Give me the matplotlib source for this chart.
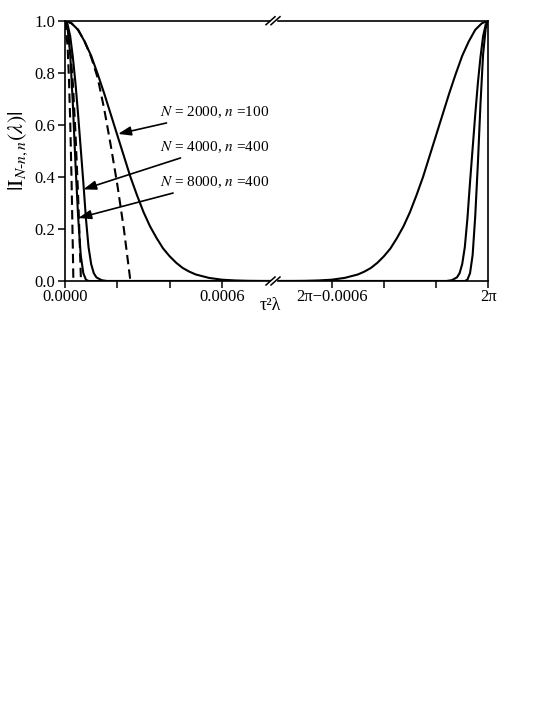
import matplotlib.pyplot as plt

plt.rcParams['font.family'] = ['Liberation Serif', 'DejaVu Serif']
plt.rcParams['mathtext.fontset'] = 'stix'

# x offsets are in units of 1e-4 (distance from 0 on the left, from 2*pi on the right)
# N = 2000, n = 100
x_2000 = [0, 0.25, 0.5, 0.75, 1.0, 1.25, 1.5, 1.75, 2.0, 2.25, 2.5, 2.75, 3.0, 3.25, 3.5, 3.75,
          4.0, 4.25, 4.5, 4.75, 5.0, 5.5, 6.0, 6.5, 7.0, 7.5, 8.3]
y_2000 = [1.0, 0.99, 0.965, 0.92, 0.865, 0.795, 0.72, 0.64, 0.56, 0.48, 0.40, 0.33, 0.265, 0.21,
          0.165, 0.125, 0.095, 0.07, 0.05, 0.036, 0.025, 0.012, 0.005, 0.002, 0.0005, 0.0, 0.0]
x_2000_apx = [0, 0.25, 0.5, 0.75, 1.0, 1.25, 1.5, 1.75, 2.0, 2.25, 2.5]
y_2000_apx = [1.0, 0.99, 0.965, 0.92, 0.86, 0.78, 0.66, 0.52, 0.37, 0.20, 0.0]

# N = 4000, n = 400
x_4000 = [0, 0.1, 0.2, 0.3, 0.4, 0.5, 0.6, 0.7, 0.8, 0.9, 1.0, 1.1, 1.2, 1.4, 1.6, 8.3]
y_4000 = [1.0, 0.985, 0.94, 0.86, 0.76, 0.64, 0.51, 0.38, 0.24, 0.13, 0.065, 0.03, 0.014, 0.003, 0.0, 0.0]
x_4000_apx = [0, 0.1, 0.2, 0.3, 0.4, 0.5, 0.55, 0.61]
y_4000_apx = [1.0, 0.97, 0.89, 0.76, 0.57, 0.33, 0.19, 0.0]

# N = 8000, n = 400
x_8000 = [0, 0.1, 0.2, 0.3, 0.4, 0.5, 0.6, 0.7, 0.8, 0.9, 8.3]
y_8000 = [1.0, 0.97, 0.87, 0.68, 0.45, 0.25, 0.10, 0.03, 0.005, 0.0, 0.0]
x_8000_apx = [0, 0.1, 0.15, 0.2, 0.25, 0.3, 0.32]
y_8000_apx = [1.0, 0.90, 0.78, 0.61, 0.39, 0.12, 0.0]

labels = ['$N$ = 2000, $n$ =100', '$N$ = 4000, $n$ =400', '$N$ = 8000, $n$ =400']
label_pos = [(3.63, 0.649), (3.63, 0.515), (3.63, 0.380)]
arrow_tips = [(2.03, 0.565), (0.70, 0.352), (0.51, 0.242)]

fig = plt.figure(figsize=(5.45, 7.05), dpi=100)
ax1 = fig.add_axes([65 / 545, 1 - 281 / 705, 208 / 545, 260.3 / 705])
ax2 = fig.add_axes([273 / 545, 1 - 281 / 705, 215.3 / 545, 260.3 / 705])

lw = 1.5
dash = (0, (4.5, 2.5))
for xs, ys in [(x_2000, y_2000), (x_4000, y_4000), (x_8000, y_8000)]:
    ax1.plot(xs, ys, color='black', lw=lw)
    ax2.plot([-v for v in xs], ys, color='black', lw=lw)
for xs, ys in [(x_2000_apx, y_2000_apx), (x_4000_apx, y_4000_apx), (x_8000_apx, y_8000_apx)]:
    ax1.plot(xs, ys, color='black', lw=lw, linestyle=dash)

ax1.set_xlim(0, 7.95)
ax2.set_xlim(-8.25, 0)
for ax in (ax1, ax2):
    ax.set_ylim(0, 1)
    for s in ax.spines.values():
        s.set_linewidth(1.2)
    ax.tick_params(direction='out', length=5, width=1.1, labelsize=12, pad=1)

ax1.spines['right'].set_visible(False)
ax2.spines['left'].set_visible(False)

ax1.set_xticks([0, 2, 4, 6])
ax1.set_xticklabels(['0.0000', '', '', '0.0006'])
ax2.set_xticks([-6, -4, -2, 0])
ax2.set_xticklabels(['2π−0.0006', '', '', '2π'])
ax1.set_yticks([0, 0.2, 0.4, 0.6, 0.8, 1.0])
ax1.set_yticklabels(['0.0', '0.2', '0.4', '0.6', '0.8', '1.0'])
ax1.tick_params(axis='y', pad=2)
ax2.set_yticks([])

ax1.set_ylabel(r'$|\mathrm{I}_{N\text{-}n,n}(\lambda)|$', fontsize=16, labelpad=3)
fig.text(270 / 545, 1 - 306 / 705, 'τ²λ', ha='center', va='center', fontsize=13)

for txt, pos, tip in zip(labels, label_pos, arrow_tips):
    ax1.annotate(txt, xy=tip, xytext=pos, ha='left', va='center', fontsize=11,
                 arrowprops=dict(arrowstyle='-|>,head_length=0.7,head_width=0.25',
                                 color='black', lw=1.2, shrinkA=1, shrinkB=0),
                 annotation_clip=False)

# break marks on the spines
bx = 273 / 545
for yb in (1 - 281 / 705, 1 - 20.7 / 705):
    fig.patches.append(plt.Rectangle((bx - 2.5 / 545, yb - 2 / 705), 5 / 545, 4 / 705,
                                     transform=fig.transFigure, color='white', zorder=5))
    for dx in (-2.5, 2.5):
        fig.lines.append(plt.Line2D([bx + (dx - 4.5) / 545, bx + (dx + 4.5) / 545],
                                    [yb - 4 / 705, yb + 4 / 705],
                                    transform=fig.transFigure, color='black', lw=1.1, zorder=6))

plt.savefig('out.png', dpi=100)
